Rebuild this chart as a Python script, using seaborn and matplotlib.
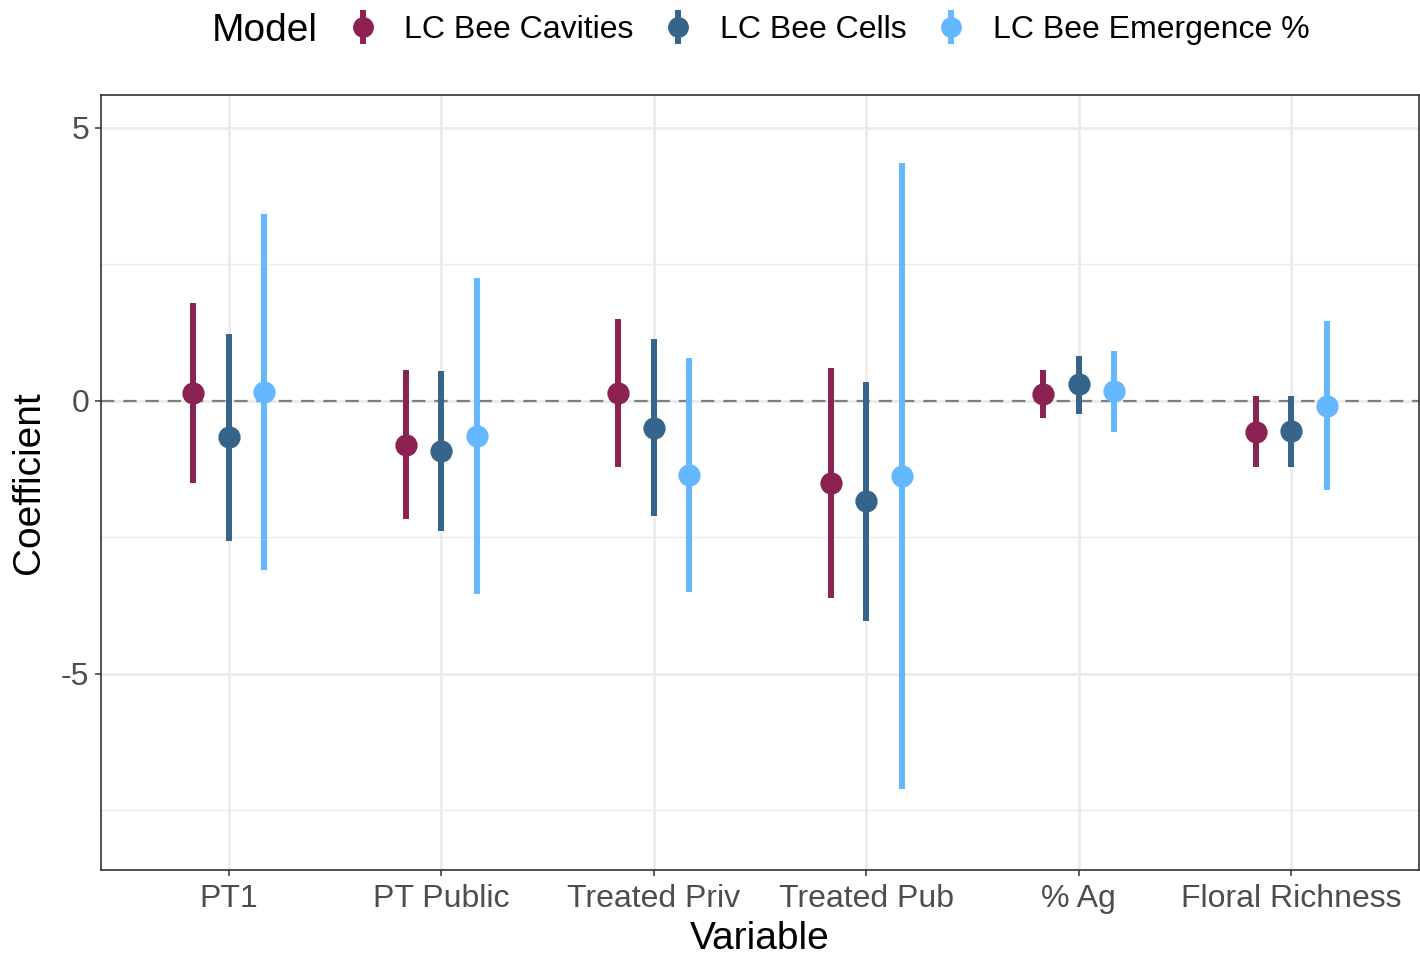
import matplotlib
matplotlib.use("Agg")
import matplotlib.pyplot as plt
from matplotlib.lines import Line2D
from matplotlib.legend_handler import HandlerTuple
from matplotlib.ticker import FixedLocator
import numpy as np
import pandas as pd
import seaborn as sns

variables = ["PT1", "PT Public", "Treated Priv", "Treated Pub", "% Ag", "Floral Richness"]
models = ["LC Bee Cavities", "LC Bee Cells", "LC Bee Emergence %"]

# coefficient estimates and 95% interval bounds, one list per model (ordered as variables)
cavities_est = [0.15, -0.81, 0.14, -1.51, 0.12, -0.57]
cavities_lo = [-1.51, -2.16, -1.21, -3.61, -0.32, -1.21]
cavities_hi = [1.80, 0.56, 1.50, 0.60, 0.56, 0.09]

cells_est = [-0.67, -0.92, -0.49, -1.84, 0.30, -0.56]
cells_lo = [-2.56, -2.39, -2.11, -4.03, -0.24, -1.21]
cells_hi = [1.23, 0.54, 1.13, 0.35, 0.83, 0.09]

emerg_est = [0.16, -0.64, -1.35, -1.37, 0.18, -0.09]
emerg_lo = [-3.10, -3.54, -3.50, -7.11, -0.57, -1.64]
emerg_hi = [3.42, 2.25, 0.79, 4.36, 0.92, 1.47]

colors = {"LC Bee Cavities": "#8B2252",
          "LC Bee Cells": "#36648B",
          "LC Bee Emergence %": "#63B8FF"}

series = {
    "LC Bee Cavities": (cavities_lo, cavities_est, cavities_hi),
    "LC Bee Cells": (cells_lo, cells_est, cells_hi),
    "LC Bee Emergence %": (emerg_lo, emerg_est, emerg_hi),
}

rows = []
for model in models:
    lo, est, hi = series[model]
    for v, a, b, c in zip(variables, lo, est, hi):
        for val in (a, b, c):
            rows.append({"Variable": v, "Model": model, "Coefficient": val})
df = pd.DataFrame(rows)

sns.set_theme(style="white")
plt.rcParams["font.family"] = ["Liberation Sans", "DejaVu Sans"]
plt.rcParams["text.color"] = "black"

W, H = 1420, 956
fig = plt.figure(figsize=(W / 100, H / 100), dpi=100)
ax = fig.add_axes([101 / W, 1 - 870 / H, 1318 / W, 775 / H])

ax.axhline(0, color="#7F7F7F", lw=1.6, ls=(0, (6, 4)), zorder=1.5)

sns.pointplot(
    data=df, x="Variable", y="Coefficient", hue="Model",
    order=variables, hue_order=models, palette=colors,
    estimator="median", errorbar=lambda v: (np.min(v), np.max(v)),
    dodge=1 / 3, linestyle="none", markers="o", markersize=14,
    err_kws={"linewidth": 4.3, "solid_capstyle": "butt"}, capsize=0, ax=ax, legend=False,
)

ax.set_xlim(-0.6, len(variables) - 0.4)
ax.set_ylim(-8.59, 5.6)
ax.yaxis.set_major_locator(FixedLocator([-5, 0, 5]))
ax.yaxis.set_minor_locator(FixedLocator([-7.5, -2.5, 2.5]))
ax.set_yticklabels(["-5", "0", "5"])
ax.set_axisbelow(True)
ax.grid(True, which="major", color="#EBEBEB", lw=2.0)
ax.grid(True, which="minor", axis="y", color="#EBEBEB", lw=1.0)
ax.tick_params(axis="both", which="major", length=4.3, width=1.1, color="#333333",
               labelsize=23, labelcolor="#4D4D4D", bottom=True, left=True)
ax.tick_params(axis="x", which="major", pad=6)
ax.tick_params(axis="y", which="major", pad=4)
ax.tick_params(axis="y", which="minor", length=0)
for sp in ax.spines.values():
    sp.set_color("#333333")
    sp.set_linewidth(1.2)
    sp.set_visible(True)

ax.set_xlabel("Variable", fontsize=28, color="black", labelpad=5)
ax.set_ylabel("Coefficient", fontsize=28, color="black", labelpad=10)

handles = [
    (Line2D([], [], color=colors[m], marker="|", markersize=24, markeredgewidth=4.3, ls="none"),
     Line2D([], [], color=colors[m], marker="o", markersize=14, ls="none"))
    for m in models
]
fig.text(212 / W, 1 - 31 / H, "Model", fontsize=28, va="center", ha="left", color="black")
fig.legend(handles, models, handler_map={tuple: HandlerTuple(ndivide=1)},
           loc="center left", bbox_to_anchor=(350 / W, 1 - 30 / H),
           ncol=3, frameon=False, fontsize=23, handlelength=0.8, labelcolor="black",
           handletextpad=0.9, columnspacing=1.0, borderpad=0, borderaxespad=0)

fig.savefig("out.png", dpi=100)
